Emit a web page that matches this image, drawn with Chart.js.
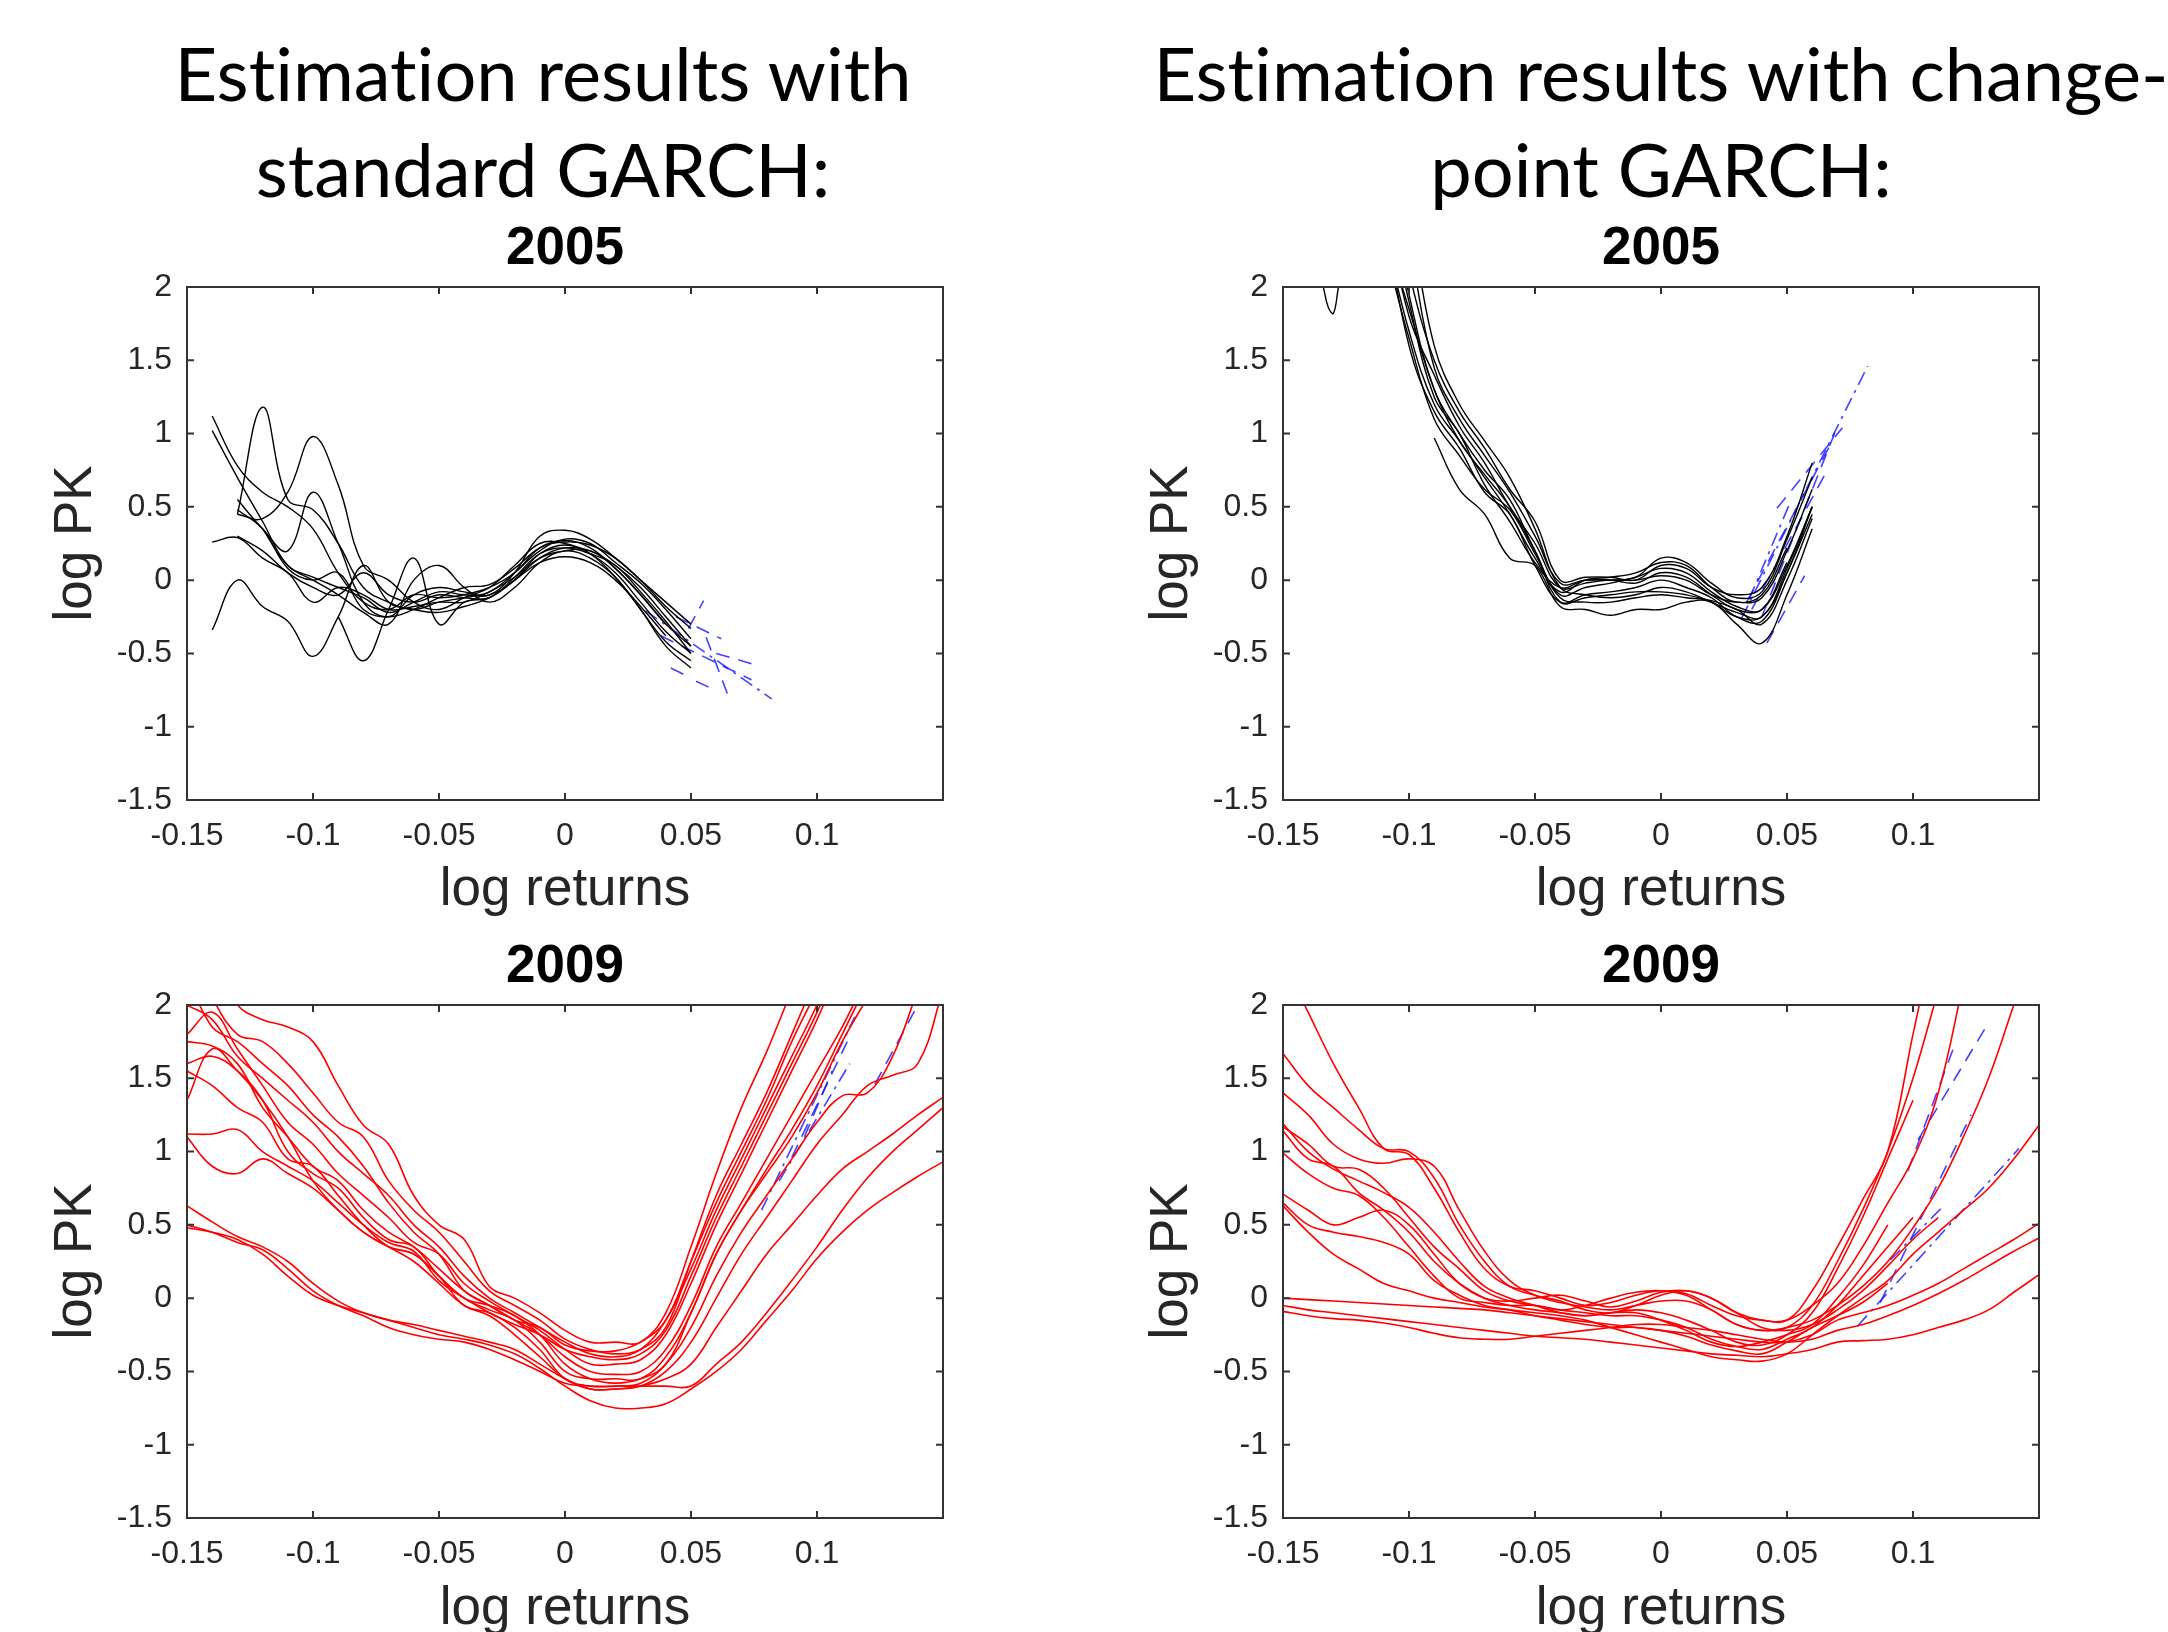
<!DOCTYPE html>
<html>
<head>
<meta charset="utf-8">
<title>Estimation results: standard vs change-point GARCH</title>
<script src="https://cdn.jsdelivr.net/npm/chart.js@4.4.1/dist/chart.umd.min.js"></script>
<style>
  html, body { margin: 0; padding: 0; background: #fff; }
  body { width: 2168px; height: 1632px; position: relative; overflow: hidden; }
  .heading {
    position: absolute; width: 1300px; text-align: center; white-space: nowrap;
    font-family: Lato, 'Open Sans', sans-serif; font-size: 74px; line-height: 70px; color: #000;
    font-variant-ligatures: none;
  }
  canvas { position: absolute; }
</style>
</head>
<body>
<div class="heading" style="left:-107px; top:38px">Estimation results with</div>
<div class="heading" style="left:-107px; top:134px">standard GARCH:</div>
<div class="heading" style="left:1011px; top:38px">Estimation results with change-</div>
<div class="heading" style="left:1011px; top:134px">point GARCH:</div>

<script>
// ---- axes ----
var xTicks = [-0.15, -0.1, -0.05, 0, 0.05, 0.1];
var xTickLabels = ['-0.15', '-0.1', '-0.05', '0', '0.05', '0.1'];
var yTicks = [-1.5, -1, -0.5, 0, 0.5, 1, 1.5, 2];
var yTickLabels = ['-1.5', '-1', '-0.5', '0', '0.5', '1', '1.5', '2'];

// ---- 2005, standard GARCH (black) ----
var stdX05 = [-0.14, -0.13, -0.12, -0.11, -0.10, -0.09, -0.08, -0.07, -0.06, -0.05,
              -0.04, -0.03, -0.02, -0.01, 0, 0.01, 0.02, 0.03, 0.04, 0.05];
var std05 = [
  [1.12, 0.78, 0.6, 0.5, 0.35, 0.05, -0.15, -0.2, -0.1, -0.12, -0.1, -0.05, 0.05, 0.22, 0.27, 0.22, 0.08, -0.1, -0.3, null],
  [1.02, 0.7, 0.4, 0.1, 0.02, -0.05, -0.12, -0.22, -0.15, -0.08, -0.1, -0.1, 0.0, 0.18, 0.24, 0.18, 0.05, -0.15, -0.35, -0.5],
  [null, 0.45, 1.18, 0.55, 0.48, 0.25, -0.05, -0.15, -0.2, -0.15, -0.12, -0.08, 0.05, 0.2, 0.28, 0.25, 0.12, -0.02, -0.2, -0.4],
  [null, 0.45, 0.42, 0.6, 0.98, 0.65, 0.1, 0.0, -0.15, -0.2, -0.12, -0.05, 0.1, 0.25, 0.25, 0.18, 0.02, -0.2, -0.42, -0.55],
  [null, 0.55, 0.35, 0.2, 0.6, 0.25, -0.15, -0.25, -0.1, -0.05, -0.08, -0.1, 0.05, 0.3, 0.34, 0.28, 0.15, 0.0, -0.18, -0.33],
  [0.26, 0.29, 0.15, 0.05, -0.15, -0.05, -0.1, -0.2, -0.18, -0.15, -0.15, -0.08, 0.02, 0.15, 0.2, 0.2, 0.08, -0.1, -0.3, -0.45],
  [-0.34, 0.0, -0.18, -0.28, -0.52, -0.25, 0.1, -0.15, -0.2, -0.22, -0.18, -0.12, 0.0, 0.12, 0.16, 0.12, 0.0, -0.18, -0.38, null],
  [null, null, null, null, null, -0.25, -0.55, -0.2, 0.15, -0.3, -0.15, -0.12, 0.0, 0.15, 0.22, 0.2, 0.1, -0.05, -0.25, -0.45],
  [null, 0.48, 0.35, 0.08, 0.0, 0.05, -0.2, -0.25, -0.2, -0.12, -0.05, -0.03, 0.08, 0.22, 0.26, 0.24, 0.15, 0.0, -0.15, -0.3],
  [null, 0.3, 0.2, 0.05, -0.05, -0.1, 0.05, -0.1, -0.15, -0.1, -0.12, -0.12, 0.02, 0.18, 0.22, 0.18, 0.1, -0.08, -0.28, -0.5],
  [null, null, 0.35, 0.1, 0.0, -0.1, -0.22, -0.3, 0.0, 0.1, -0.05, -0.15, -0.05, 0.12, 0.2, 0.15, 0.02, -0.2, -0.45, -0.6]
];
// extrapolated tails: [x1, y1, x2, y2]
var stdBlue05 = [
  [0.032, -0.21, 0.082, -0.81], [0.038, -0.38, 0.074, -0.68], [0.049, -0.33, 0.055, -0.14],
  [0.042, -0.6, 0.048, -0.65], [0.052, -0.69, 0.057, -0.73], [0.056, -0.39, 0.065, -0.8],
  [0.06, -0.5, 0.074, -0.57], [0.044, -0.25, 0.062, -0.4]
];

// ---- 2005, change-point GARCH (black) ----
var cpX05 = [-0.11, -0.10, -0.09, -0.08, -0.07, -0.06, -0.05, -0.04, -0.03,
             -0.02, -0.01, 0, 0.01, 0.02, 0.03, 0.04, 0.05, 0.06];
var cp05 = [
  [2.6, 1.8, 1.4, 1.05, 0.8, 0.5, 0.25, -0.05, -0.02, 0.0, 0.0, 0.03, 0.0, -0.1, -0.15, -0.12, 0.2, 0.62],
  [2.8, 1.95, 1.3, 1.0, 0.75, 0.55, 0.2, -0.1, -0.05, -0.02, 0.02, 0.08, 0.05, -0.08, -0.18, -0.2, 0.1, 0.5],
  [2.4, 1.7, 1.2, 0.95, 0.7, 0.45, 0.15, -0.08, 0.0, 0.02, 0.05, 0.12, 0.1, -0.05, -0.15, -0.1, 0.22, null],
  [3.0, 2.3, 1.45, 1.1, 0.85, 0.6, 0.3, -0.02, 0.0, 0.0, 0.02, 0.15, 0.12, -0.02, -0.12, -0.08, 0.28, 0.7],
  [2.5, 1.6, 1.15, 0.9, 0.6, 0.45, 0.1, -0.15, -0.1, -0.08, -0.05, 0.0, -0.05, -0.12, -0.25, -0.28, 0.05, 0.45],
  [3.2, 2.5, 1.6, 1.2, 0.95, 0.7, 0.35, -0.05, -0.1, -0.12, -0.1, -0.05, -0.08, -0.15, -0.22, -0.25, 0.08, 0.5],
  [2.3, 1.65, 1.1, 0.85, 0.62, 0.48, 0.18, -0.12, -0.15, -0.15, -0.12, -0.1, -0.12, -0.14, -0.2, -0.3, 0.0, 0.42],
  [null, null, 0.97, 0.62, 0.45, 0.15, 0.1, -0.18, -0.2, -0.24, -0.2, -0.2, -0.15, -0.15, -0.3, -0.43, -0.1, 0.35],
  [2.7, 1.9, 1.25, 1.0, 0.65, 0.4, 0.12, -0.05, 0.0, 0.0, -0.02, 0.05, 0.02, -0.1, -0.2, -0.2, 0.12, null],
  [2.9, 2.1, 1.5, 1.15, 0.9, 0.62, 0.4, 0.0, 0.02, 0.02, 0.0, 0.1, 0.08, -0.05, -0.1, -0.05, 0.3, 0.8],
  [2.4, 1.85, 1.3, 0.95, 0.72, 0.5, 0.2, -0.15, -0.12, -0.1, -0.08, -0.08, -0.1, -0.15, -0.25, -0.25, 0.05, 0.5]
];
// short stray curve at the top left corner
var cpStrayX05 = [-0.134, -0.132, -0.130, -0.128];
var cpStrayY05 = [2.0, 1.86, 1.82, 2.0];
var cpBlue05 = [
  [0.032, -0.26, 0.082, 1.46], [0.042, -0.43, 0.057, 0.03], [0.034, -0.15, 0.068, 0.95],
  [0.036, -0.2, 0.065, 0.72], [0.035, -0.13, 0.051, 0.52], [0.046, 0.49, 0.072, 1.04],
  [0.04, -0.25, 0.07, 1.05]
];

// ---- 2009 (red), both models share the same return grid ----
var gridX09 = [-0.15, -0.14, -0.13, -0.12, -0.11, -0.10, -0.09, -0.08, -0.07, -0.06, -0.05,
               -0.04, -0.03, -0.02, -0.01, 0, 0.01, 0.02, 0.03, 0.04, 0.05,
               0.06, 0.07, 0.08, 0.09, 0.10, 0.11, 0.12, 0.13, 0.14, 0.15];
var std09 = [
  [2.6, 2.3, 2.0, 1.9, 1.85, 1.75, 1.45, 1.18, 1.05, 0.7, 0.5, 0.4, 0.08, 0.0, -0.1, -0.22, -0.3, -0.3, -0.3, -0.1, 0.35, 0.85, 1.3, 1.68, 2.1, 2.5, null, null, null, null, null],
  [2.4, 2.05, 1.8, 1.75, 1.6, 1.4, 1.2, 1.1, 0.8, 0.6, 0.45, 0.25, 0.05, -0.05, -0.15, -0.28, -0.35, -0.38, -0.35, -0.2, 0.25, 0.7, 1.05, 1.4, 1.8, 2.2, null, null, null, null, null],
  [2.0, 1.9, 1.65, 1.5, 1.35, 1.2, 1.0, 0.85, 0.7, 0.5, 0.35, 0.15, 0.0, -0.1, -0.2, -0.3, -0.38, -0.4, -0.35, -0.15, 0.2, 0.6, 0.95, 1.3, 1.65, 2.0, 2.4, null, null, null, null],
  [1.8, 1.95, 1.7, 1.45, 1.2, 1.05, 0.85, 0.7, 0.55, 0.38, 0.3, 0.1, -0.02, -0.12, -0.22, -0.35, -0.45, -0.45, -0.42, -0.25, 0.1, 0.5, 0.85, 1.2, 1.55, 1.9, 2.3, null, null, null, null],
  [1.75, 1.72, 1.6, 1.3, 1.1, 0.9, 0.8, 0.6, 0.45, 0.35, 0.2, 0.05, -0.05, -0.15, -0.25, -0.4, -0.5, -0.52, -0.5, -0.35, -0.05, 0.35, 0.65, 0.95, 1.25, 1.55, 1.85, 2.2, null, null, null],
  [1.6, 1.65, 1.55, 1.35, 1.0, 0.85, 0.75, 0.55, 0.4, 0.35, 0.15, 0.0, -0.08, -0.15, -0.3, -0.5, -0.55, -0.55, -0.55, -0.4, -0.1, 0.3, 0.6, 0.85, 1.1, 1.4, 1.75, 2.05, null, null, null],
  [1.55, 1.45, 1.3, 1.2, 0.95, 0.9, 0.7, 0.5, 0.35, 0.3, 0.15, -0.05, -0.1, -0.2, -0.35, -0.55, -0.6, -0.6, -0.58, -0.45, -0.2, 0.15, 0.45, 0.7, 0.95, 1.2, 1.38, 1.4, 1.65, 2.1, null],
  [1.35, 1.7, 1.55, 1.35, 1.1, 0.8, 0.6, 0.45, 0.35, 0.25, 0.1, -0.05, -0.12, -0.25, -0.4, -0.55, -0.62, -0.62, -0.6, -0.5, -0.3, 0.0, 0.3, 0.55, 0.8, 1.05, 1.25, 1.45, 1.52, 1.6, 2.1],
  [1.12, 1.12, 1.15, 1.0, 0.9, 0.8, 0.65, 0.5, 0.38, 0.32, 0.12, 0.0, -0.1, -0.18, -0.25, -0.35, -0.4, -0.42, -0.38, -0.22, 0.15, 0.55, 0.9, 1.25, 1.6, 1.95, 2.35, null, null, null, null],
  [1.1, 0.9, 0.85, 0.95, 0.85, 0.75, 0.6, 0.45, 0.35, 0.3, 0.15, 0.0, -0.05, -0.12, -0.25, -0.45, -0.55, -0.58, -0.55, -0.45, -0.1, 0.3, 0.6, 0.88, 1.15, 1.45, 1.8, 2.15, null, null, null],
  [2.2, 1.85, 1.75, 1.6, 1.45, 1.25, 1.1, 0.9, 0.65, 0.45, 0.3, 0.05, -0.05, -0.15, -0.2, -0.32, -0.36, -0.36, -0.3, -0.15, 0.25, 0.65, 1.0, 1.35, 1.75, 2.1, null, null, null, null, null],
  [0.63, 0.52, 0.42, 0.35, 0.25, 0.1, -0.02, -0.1, -0.15, -0.2, -0.25, -0.28, -0.32, -0.38, -0.48, -0.6, -0.7, -0.75, -0.75, -0.72, -0.62, -0.5, -0.35, -0.15, 0.05, 0.27, 0.45, 0.6, 0.72, 0.83, 0.93],
  [0.5, 0.45, 0.38, 0.33, 0.2, 0.05, -0.05, -0.12, -0.2, -0.25, -0.28, -0.3, -0.35, -0.42, -0.5, -0.58, -0.6, -0.6, -0.6, -0.6, -0.6, -0.45, -0.3, -0.1, 0.12, 0.35, 0.6, 0.82, 1.0, 1.15, 1.3],
  [0.48, 0.45, 0.4, 0.3, 0.15, 0.02, -0.05, -0.1, -0.15, -0.18, -0.22, -0.26, -0.3, -0.35, -0.45, -0.55, -0.62, -0.62, -0.6, -0.55, -0.45, -0.2, 0.05, 0.3, 0.5, 0.7, 0.88, 1.0, 1.12, 1.25, 1.37]
];
var stdBlue09 = [
  [0.078, 0.6, 0.115, 1.92], [0.09, 0.96, 0.112, 1.75], [0.123, 1.46, 0.14, 2.0],
  [0.095, 1.1, 0.106, 1.55], [0.085, 0.8, 0.113, 1.6]
];

var cp09 = [
  [2.3, 1.95, 1.6, 1.3, 1.02, 0.98, 0.75, 0.45, 0.2, 0.08, 0.05, 0.0, -0.05, -0.03, 0.02, 0.05, 0.03, -0.05, -0.12, -0.15, -0.15, 0.05, 0.35, 0.67, 1.0, 1.8, 2.6, null, null, null, null],
  [1.67, 1.45, 1.3, 1.15, 1.02, 1.0, 0.82, 0.5, 0.25, 0.08, 0.02, -0.02, -0.08, -0.1, -0.05, 0.02, 0.05, 0.0, -0.1, -0.15, -0.15, -0.05, 0.1, 0.35, 0.65, 0.95, 1.4, 2.15, null, null, null],
  [1.4, 1.25, 1.05, 0.95, 0.92, 0.95, 0.9, 0.6, 0.32, 0.12, 0.02, -0.03, -0.06, -0.08, -0.05, -0.02, -0.02, -0.08, -0.18, -0.22, -0.2, -0.15, -0.05, 0.08, 0.25, 0.48, 0.75, 1.1, 1.5, 2.0, null],
  [1.19, 1.0, 0.88, 0.8, 0.72, 0.62, 0.45, 0.25, 0.08, 0.0, -0.05, -0.1, -0.12, -0.1, -0.08, -0.1, -0.15, -0.22, -0.3, -0.32, -0.25, -0.1, 0.2, 0.55, 0.95, 1.35, null, null, null, null, null],
  [1.17, 1.05, 0.9, 0.88, 0.75, 0.55, 0.35, 0.2, 0.05, -0.02, -0.05, -0.08, -0.05, 0.0, 0.04, 0.05, 0.02, -0.08, -0.18, -0.22, -0.2, -0.05, 0.25, 0.6, 1.0, 1.5, 2.1, null, null, null, null],
  [1.14, 0.95, 0.9, 0.72, 0.6, 0.45, 0.25, 0.1, 0.0, -0.05, -0.08, -0.1, -0.12, -0.1, -0.1, -0.15, -0.22, -0.3, -0.33, -0.3, -0.25, -0.18, 0.0, 0.22, 0.5, null, null, null, null, null, null],
  [0.99, 0.85, 0.75, 0.7, 0.55, 0.35, 0.15, 0.0, -0.03, -0.05, -0.05, -0.08, -0.1, -0.12, -0.12, -0.15, -0.2, -0.28, -0.33, -0.35, -0.28, -0.2, -0.05, 0.15, 0.35, 0.55, null, null, null, null, null],
  [0.71, 0.6, 0.5, 0.55, 0.6, 0.5, 0.3, 0.1, 0.0, -0.02, 0.0, 0.02, -0.02, -0.06, -0.02, 0.04, 0.05, 0.0, -0.1, -0.2, -0.22, -0.18, -0.08, 0.05, 0.22, 0.4, 0.55, null, null, null, null],
  [0.65, 0.5, 0.45, 0.42, 0.38, 0.3, 0.12, 0.02, -0.05, -0.08, -0.12, -0.15, -0.18, -0.2, -0.2, -0.22, -0.26, -0.32, -0.36, -0.38, -0.3, -0.2, -0.12, -0.03, 0.1, null, null, null, null, null, null],
  [0.63, 0.45, 0.3, 0.2, 0.1, 0.05, 0.0, -0.03, -0.06, -0.08, -0.1, -0.12, -0.15, -0.2, -0.25, -0.3, -0.35, -0.4, -0.42, -0.43, -0.38, -0.25, -0.12, 0.0, 0.12, 0.3, 0.45, 0.6, 0.75, 0.95, 1.18],
  [0.0, -0.01, -0.02, -0.03, -0.04, -0.05, -0.06, -0.07, -0.08, -0.1, -0.12, -0.14, -0.16, -0.18, -0.2, -0.22, -0.24, -0.26, -0.28, -0.3, -0.3, -0.25, -0.15, -0.1, -0.05, 0.02, 0.1, 0.2, 0.3, 0.4, 0.51],
  [-0.05, -0.08, -0.1, -0.12, -0.14, -0.16, -0.18, -0.2, -0.22, -0.24, -0.26, -0.27, -0.28, -0.3, -0.32, -0.34, -0.36, -0.38, -0.39, -0.4, -0.38, -0.35, -0.3, -0.29, -0.28, -0.25, -0.2, -0.15, -0.08, 0.04, 0.16],
  [-0.09, -0.12, -0.14, -0.15, -0.17, -0.2, -0.24, -0.27, -0.28, -0.28, -0.26, -0.24, -0.22, -0.2, -0.18, -0.18, -0.2, -0.22, -0.25, -0.28, -0.3, -0.28, -0.22, -0.18, -0.12, -0.05, 0.03, 0.12, 0.22, 0.32, 0.41]
];
var cpBlue09 = [
  [0.078, -0.19, 0.142, 1.02], [0.087, -0.03, 0.123, 1.25], [0.098, 0.87, 0.117, 1.75],
  [0.102, 1.08, 0.13, 1.88], [0.091, 0.26, 0.111, 0.61]
];

(function() {
    'use strict';

    var AXIS_COLOR = '#333333';
    var TEXT_COLOR = '#262626';
    var HELV = "'Liberation Sans', Arial, Helvetica, sans-serif";

    // plot-area geometry: axis block is 187px wide, 120px tall, title block 100px
    var Y_AXIS_W = 187, X_AXIS_H = 120, TITLE_H = 100, PLOT_W = 756, PLOT_H = 513, RIGHT_PAD = 20;

    /**
     * Box round the plot area plus inward MATLAB-style ticks on all four sides
     */
    var axesBox = {
        id: 'axesBox',
        afterDatasetsDraw: function(chart) {
            var ctx = chart.ctx;
            var a = chart.chartArea;
            var xs = chart.scales.x, ys = chart.scales.y;
            var len = 7;

            ctx.save();
            ctx.strokeStyle = AXIS_COLOR;
            ctx.lineWidth = 2;
            ctx.strokeRect(a.left, a.top, a.right - a.left, a.bottom - a.top);
            ctx.beginPath();
            xTicks.forEach(function(v) {
                var px = xs.getPixelForValue(v);
                ctx.moveTo(px, a.bottom); ctx.lineTo(px, a.bottom - len);
                ctx.moveTo(px, a.top); ctx.lineTo(px, a.top + len);
            });
            yTicks.forEach(function(v) {
                var py = ys.getPixelForValue(v);
                ctx.moveTo(a.left, py); ctx.lineTo(a.left + len, py);
                ctx.moveTo(a.right, py); ctx.lineTo(a.right - len, py);
            });
            ctx.stroke();
            ctx.restore();
        }
    };

    function curveDatasets(xs, rows, color, width) {
        return rows.map(function(ys) {
            return {
                data: xs.map(function(x, i) { return { x: x, y: ys[i] }; }),
                borderColor: color,
                borderWidth: width,
                pointRadius: 0,
                tension: 0.4,
                spanGaps: false,
                fill: false
            };
        });
    }

    function blueDatasets(segs) {
        return segs.map(function(s, i) {
            return {
                data: [{ x: s[0], y: s[1] }, { x: s[2], y: s[3] }],
                borderColor: 'rgba(20, 20, 255, 0.8)',
                borderWidth: 1.6,
                borderDash: i % 4 === 0 ? [14, 6, 3, 6] : [14, 9],
                pointRadius: 0,
                fill: false
            };
        });
    }

    function buildPanel(p) {
        var canvas = document.createElement('canvas');
        canvas.width = Y_AXIS_W + PLOT_W + RIGHT_PAD;
        canvas.height = TITLE_H + PLOT_H + X_AXIS_H;
        canvas.style.left = (p.plotLeft - Y_AXIS_W) + 'px';
        canvas.style.top = (p.plotTop - TITLE_H) + 'px';
        document.body.appendChild(canvas);

        return new Chart(canvas.getContext('2d'), {
            type: 'line',
            data: { datasets: p.datasets },
            options: {
                responsive: false,
                animation: false,
                devicePixelRatio: 1,
                events: [],
                layout: { padding: { left: 0, right: RIGHT_PAD, top: 0, bottom: 0 } },
                plugins: {
                    legend: { display: false },
                    tooltip: { enabled: false },
                    title: {
                        display: true,
                        fullSize: false,
                        text: p.title,
                        color: '#000',
                        font: { family: HELV, size: 53, weight: 'bold', lineHeight: 1.2 },
                        padding: { top: 31, bottom: 5.4 }
                    }
                },
                scales: {
                    x: {
                        type: 'linear',
                        min: -0.15,
                        max: 0.15,
                        afterBuildTicks: function(scale) {
                            scale.ticks = xTicks.map(function(v) { return { value: v }; });
                        },
                        afterFit: function(scale) { scale.height = X_AXIS_H; },
                        grid: { display: false, drawTicks: false },
                        border: { display: false },
                        ticks: {
                            autoSkip: false,
                            maxRotation: 0,
                            padding: 17,
                            color: TEXT_COLOR,
                            font: { family: HELV, size: 32 },
                            callback: function(v, i) { return xTickLabels[i]; }
                        },
                        title: {
                            display: true,
                            text: 'log returns',
                            color: TEXT_COLOR,
                            font: { family: HELV, size: 53, lineHeight: 1.2 },
                            padding: { top: 0, bottom: p.xTitlePad }
                        }
                    },
                    y: {
                        type: 'linear',
                        min: -1.5,
                        max: 2,
                        afterBuildTicks: function(scale) {
                            scale.ticks = yTicks.map(function(v) { return { value: v }; });
                        },
                        afterFit: function(scale) { scale.width = Y_AXIS_W; },
                        grid: { display: false, drawTicks: false },
                        border: { display: false },
                        ticks: {
                            autoSkip: false,
                            padding: 15,
                            color: TEXT_COLOR,
                            font: { family: HELV, size: 32 },
                            callback: function(v, i) { return yTickLabels[i]; }
                        },
                        title: {
                            display: true,
                            text: 'log PK',
                            color: TEXT_COLOR,
                            font: { family: HELV, size: 53, lineHeight: 1.2 },
                            padding: { top: 44.8, bottom: 0 }
                        }
                    }
                }
            },
            plugins: [axesBox]
        });
    }

    var strayCurve = {
        data: cpStrayX05.map(function(x, i) { return { x: x, y: cpStrayY05[i] }; }),
        borderColor: '#000', borderWidth: 1.4, pointRadius: 0, tension: 0.4, fill: false
    };

    var panels = [
        {
            title: '2005', plotLeft: 187, plotTop: 287, xTitlePad: -2.5,
            datasets: curveDatasets(stdX05, std05, '#000', 1.4).concat(blueDatasets(stdBlue05))
        },
        {
            title: '2005', plotLeft: 1283, plotTop: 287, xTitlePad: -2.5,
            datasets: curveDatasets(cpX05, cp05, '#000', 1.4).concat([strayCurve], blueDatasets(cpBlue05))
        },
        {
            title: '2009', plotLeft: 187, plotTop: 1005, xTitlePad: -3,
            datasets: curveDatasets(gridX09, std09, '#ff0000', 1.6).concat(blueDatasets(stdBlue09))
        },
        {
            title: '2009', plotLeft: 1283, plotTop: 1005, xTitlePad: -3,
            datasets: curveDatasets(gridX09, cp09, '#ff0000', 1.6).concat(blueDatasets(cpBlue09))
        }
    ];

    panels.forEach(buildPanel);
})();
</script>
</body>
</html>
